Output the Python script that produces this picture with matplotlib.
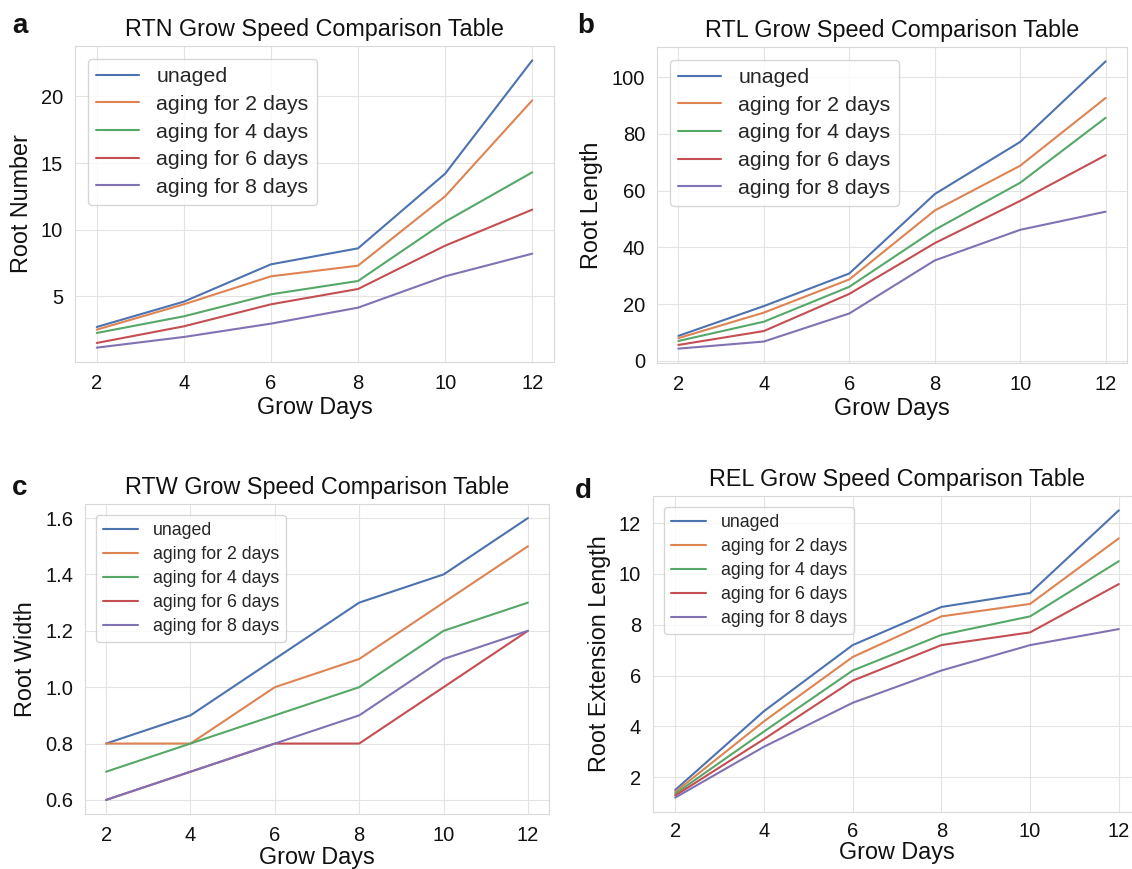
import numpy as np
import matplotlib
matplotlib.use("Agg")
import matplotlib.pyplot as plt
import seaborn as sns

# grow days on the x axis
days = [2, 4, 6, 8, 10, 12]
labels = ["unaged", "aging for 2 days", "aging for 4 days",
          "aging for 6 days", "aging for 8 days"]

# a: root number
rtn_unaged = [2.7, 4.6, 7.4, 8.6, 14.2, 22.7]
rtn_age2 = [2.5, 4.4, 6.5, 7.3, 12.5, 19.7]
rtn_age4 = [2.25, 3.5, 5.15, 6.15, 10.6, 14.3]
rtn_age6 = [1.5, 2.75, 4.4, 5.55, 8.8, 11.5]
rtn_age8 = [1.15, 1.95, 2.95, 4.15, 6.5, 8.2]

# b: root length
rtl_unaged = [8.8, 19.3, 30.8, 58.8, 77.2, 105.6]
rtl_age2 = [8.0, 17.0, 28.7, 53.0, 68.8, 92.7]
rtl_age4 = [7.0, 13.8, 26.1, 46.2, 62.8, 85.7]
rtl_age6 = [5.6, 10.5, 23.6, 41.5, 56.4, 72.5]
rtl_age8 = [4.3, 6.8, 16.7, 35.4, 46.2, 52.6]

# c: root width
rtw_unaged = [0.8, 0.9, 1.1, 1.3, 1.4, 1.6]
rtw_age2 = [0.8, 0.8, 1.0, 1.1, 1.3, 1.5]
rtw_age4 = [0.7, 0.8, 0.9, 1.0, 1.2, 1.3]
rtw_age6 = [0.6, 0.7, 0.8, 0.8, 1.0, 1.2]
rtw_age8 = [0.6, 0.7, 0.8, 0.9, 1.1, 1.2]

# d: root extension length
rel_unaged = [1.5, 4.6, 7.2, 8.7, 9.25, 12.5]
rel_age2 = [1.42, 4.2, 6.73, 8.33, 8.82, 11.4]
rel_age4 = [1.35, 3.8, 6.2, 7.6, 8.33, 10.5]
rel_age6 = [1.28, 3.5, 5.8, 7.2, 7.7, 9.6]
rel_age8 = [1.2, 3.2, 4.93, 6.2, 7.2, 7.83]

sns.set_style("whitegrid")
plt.rcParams['font.family'] = ['Liberation Sans', 'DejaVu Sans']
plt.rcParams['axes.edgecolor'] = '#d9d9d9'
plt.rcParams['grid.color'] = '#e3e3e3'

W, H = 1132, 869
fig = plt.figure(figsize=(W / 100, H / 100), dpi=100)
colors = sns.color_palette("deep")


def rect(l, r, t, b):
    return [l / W, 1 - b / H, (r - l) / W, (b - t) / H]


def panel(box, series, title, ylabel, yticks, legsize, letter, lx, ly,
          xpad=2, tpad=8.5):
    ax = fig.add_axes(rect(*box))
    for i, ys in enumerate(series):
        ax.plot(days, ys, color=colors[i], lw=1.5, label=labels[i])
    ax.set_title(title, fontsize=16.8, pad=7, color='#111111')
    ax.set_xlabel("Grow Days", fontsize=16.8, labelpad=xpad, color='#111111')
    ax.set_ylabel(ylabel, fontsize=16.8, labelpad=6, color='#111111')
    ax.set_xticks(days)
    ax.set_yticks(yticks)
    ax.tick_params(labelsize=14.5, length=0, pad=8.5, colors='#111111')
    ax.tick_params(axis='x', pad=tpad)
    ax.legend(loc='upper left', fontsize=legsize, labelspacing=0.4,
              handlelength=2.0, borderaxespad=0.6)
    fig.text(lx / W, 1 - ly / H, letter, fontsize=20, fontweight='bold',
             color='#111111')
    return ax


panel((75, 554, 46, 362),
      [rtn_unaged, rtn_age2, rtn_age4, rtn_age6, rtn_age8],
      "RTN Grow Speed Comparison Table", "Root Number",
      [5, 10, 15, 20], 15.4, "a", 12, 33)
panel((657, 1127, 47, 363),
      [rtl_unaged, rtl_age2, rtl_age4, rtl_age6, rtl_age8],
      "RTL Grow Speed Comparison Table", "Root Length",
      [0, 20, 40, 60, 80, 100], 15.4, "b", 577, 33)
panel((85, 549, 504, 814),
      [rtw_unaged, rtw_age2, rtw_age4, rtw_age6, rtw_age8],
      "RTW Grow Speed Comparison Table", "Root Width",
      [0.6, 0.8, 1.0, 1.2, 1.4, 1.6], 12.8, "c", 12, 495, xpad=1)
panel((653, 1141, 496, 812),
      [rel_unaged, rel_age2, rel_age4, rel_age6, rel_age8],
      "REL Grow Speed Comparison Table", "Root Extension Length",
      [2, 4, 6, 8, 10, 12], 12.8, "d", 575, 498, xpad=0, tpad=7)

fig.savefig("out.png", dpi=100, facecolor='white')
